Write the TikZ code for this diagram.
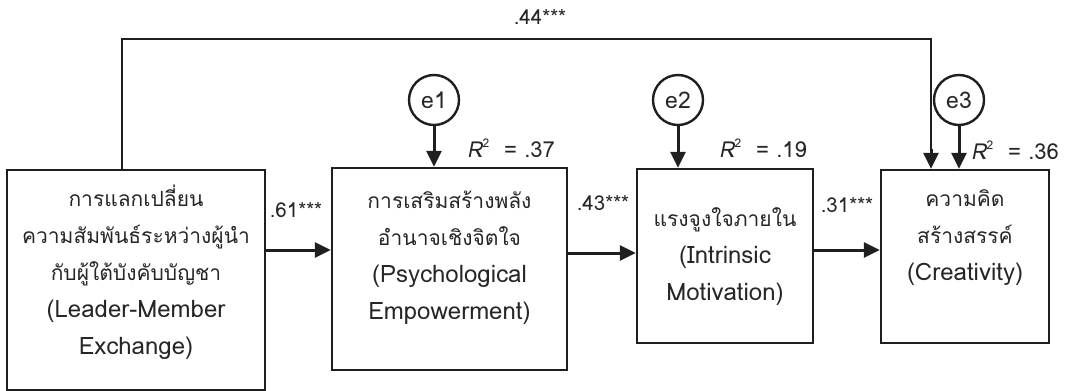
\documentclass[tikz,border=0pt]{standalone}
\usepackage{fontspec}
\newfontfamily\thaifont[Script=Thai]{Loma}
\newfontfamily\thaislant[Script=Thai,FakeSlant=0.2]{Loma}
\usetikzlibrary{arrows.meta}
\tikzset{
  box/.style={draw=black!88, line width=2.4pt, rectangle, inner sep=0pt},
  err/.style={draw=black!88, line width=2.4pt, circle, minimum size=50pt, inner sep=0pt, font=\thaifont\fontsize{23}{24}\selectfont, text=black!85},
  txt/.style={align=center, inner sep=0pt, font=\thaifont\fontsize{21}{37}\selectfont, text=black!85},
  lab/.style={inner sep=0pt, font=\thaifont\fontsize{20.5}{22}\selectfont, text=black!85},
  rlab/.style={inner sep=0pt, font=\thaifont\fontsize{22}{24}\selectfont, text=black!85},
  arr/.style={draw=black!88, line width=3pt, -{Triangle[length=16pt,width=15pt]}},
  path/.style={draw=black!88, line width=2.4pt},
}
\newcommand{\lat}[1]{{\fontsize{24}{37}\selectfont #1}}
\newcommand{\rsq}[1]{{\thaislant R}\kern0.5pt\raisebox{10pt}{\fontsize{12}{12}\selectfont 2}\ \ =\ #1}
\begin{document}
\begin{tikzpicture}[x=1pt,y=-1pt]
\useasboundingbox (0,0) rectangle (1082,391);
% boxes
\node[box, minimum width=258pt, minimum height=220pt] (b1) at (136,280) {};
\node[box, minimum width=235pt, minimum height=202pt] (b2) at (449.5,269) {};
\node[box, minimum width=176pt, minimum height=174pt] (b3) at (725,256) {};
\node[box, minimum width=168pt, minimum height=173pt] (b4) at (965,256.5) {};
% box texts
\node[txt] (t1) at (136,272) {การแลกเปลี่ยน\\ความสัมพันธ์ระหว่างผู้นำ\\กับผู้ใต้บังคับบัญชา\\\lat{(Leader-Member}\\\lat{Exchange)}};
\node[txt] (t2) at (449.5,258) {การเสริมสร้างพลัง\\อำนาจเชิงจิตใจ\\\lat{(Psychological}\\\lat{Empowerment)}};
\node[txt] (t3) at (725,257) {แรงจูงใจภายใน\\\lat{(Intrinsic}\\\lat{Motivation)}};
\node[txt] (t4) at (965,238) {ความคิด\\สร้างสรรค์\\\lat{(Creativity)}};
% error circles
\node[err] (e1) at (434,100) {e1};
\node[err] (e2) at (678,100) {e2};
\node[err] (e3) at (959,100) {e3};
% arrows from errors
\draw[arr] (e1.south) -- (e1.south |- b2.north);
\draw[arr] (e2.south) -- (e2.south |- b3.north);
\draw[arr] (e3.south) -- (e3.south |- b4.north);
% horizontal paths
\coordinate (h1) at (0,250);
\coordinate (h2) at (0,253);
\draw[arr] (b1.east |- h1) -- (b2.west |- h1);
\draw[arr] (b2.east |- h2) -- (b3.west |- h2);
\draw[arr] (b3.east |- h1) -- (b4.west |- h1);
% top path
\coordinate (c1) at (122,39);
\coordinate (c2) at (931,39);
\draw[path] (b1.north -| c1) -- (c1) -- (c2) -- (c2 |- 0,150);
\draw[arr] (c2 |- 0,149) -- (c2 |- b4.north);
% labels
\node[lab] (l44) at (540,17) {.44***};
\node[lab] (l61) at (296,210) {.61***};
\node[lab] (l43) at (603,203) {.43***};
\node[lab] (l31) at (847,205) {.31***};
\node[rlab] (r1) at (511,148) {\rsq{.37}};
\node[rlab] (r2) at (763,148) {\rsq{.19}};
\node[rlab] (r3) at (1015,150) {\rsq{.36}};
\end{tikzpicture}
\end{document}
